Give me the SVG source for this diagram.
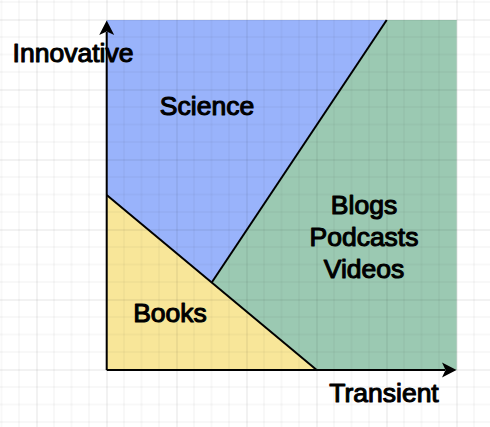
<svg xmlns="http://www.w3.org/2000/svg" width="490" height="427" viewBox="0 0 490 427">
  <style>
    .lbl { font-family: "Liberation Sans", Arial, sans-serif; font-size: 26.5px; fill: #000; stroke: #000; stroke-width: 1.1; stroke-linejoin: round; text-anchor: middle; }
    .edge { stroke: #000; stroke-width: 2; fill: none; }
    .minor { stroke: rgba(0,0,0,0.055); stroke-width: 1; }
    .major { stroke: rgba(0,0,0,0.1); stroke-width: 1; }
  </style>
  <defs>
    <pattern id="grid" x="36.5" y="19.5" width="70" height="70" patternUnits="userSpaceOnUse">
      <path class="minor" d="M17.5 0V70M35 0V70M52.5 0V70M0 17.5H70M0 35H70M0 52.5H70"/>
      <path class="major" d="M0.5 0V70M0 0.5H70"/>
    </pattern>
  </defs>

  <rect width="490" height="427" fill="#fff"/>

  <!-- quadrant regions -->
  <g id="science">
    <polygon points="106.7,20 386.7,20 211.7,282.5 106.7,195" fill="#99b3fb"/>
    <text class="lbl" x="207" y="115">Science</text>
  </g>
  <g id="media">
    <polygon points="386.7,20 456.7,20 456.7,370 316.7,370 211.7,282.5" fill="#9bc9b2"/>
    <text class="lbl" x="364" y="214">Blogs</text>
    <text class="lbl" x="364" y="246">Podcasts</text>
    <text class="lbl" x="364" y="278">Videos</text>
  </g>
  <g id="books">
    <polygon points="106.7,195 211.7,282.5 316.7,370 106.7,370" fill="#f8e699"/>
    <text class="lbl" x="170" y="322">Books</text>
  </g>

  <!-- background grid, drawn over the fills so it shows through -->
  <rect width="490" height="427" fill="url(#grid)"/>

  <!-- boundaries and axes -->
  <g id="connectors">
    <path class="edge" d="M386.7 20L211.7 282.5"/>
    <path class="edge" d="M106.7 195L316.7 370"/>
    <path class="edge" d="M106.7 370V32"/>
    <path class="edge" d="M106.7 370H445"/>
    <polygon points="106.7,20.5 114.2,35 106.7,31.5 99.2,35" fill="#000"/>
    <polygon points="456.5,370 442,362.5 445.5,370 442,377.5" fill="#000"/>
  </g>

  <g id="axis-labels">
    <text class="lbl" x="73" y="62">Innovative</text>
    <text class="lbl" x="384" y="402">Transient</text>
  </g>
</svg>
